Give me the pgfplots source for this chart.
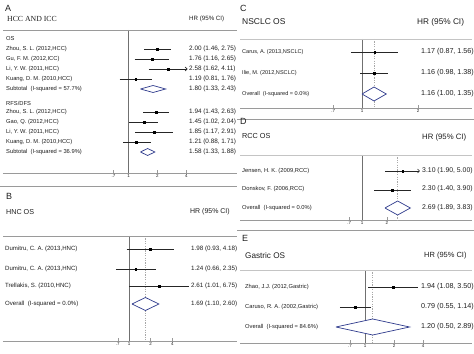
\documentclass[border=0pt]{standalone}
\usepackage{pgfplots}
\pgfplotsset{compat=1.18}
\usepackage{fontspec}
\setmainfont{Liberation Sans}
\newfontfamily\serifhead{Liberation Serif}
\usetikzlibrary{arrows.meta}

\definecolor{txt}{HTML}{1E1E1E}
\definecolor{rule}{HTML}{9A9A9A}
\definecolor{headrule}{HTML}{C4C4C4}
\definecolor{nullc}{HTML}{707070}
\definecolor{diam}{HTML}{2E3A8C}
\definecolor{dashc}{HTML}{A8A8A8}

\newcommand\fs[1]{\fontsize{#1}{#1}\selectfont}

\pgfplotsset{
  fplot/.style={
    scale only axis, clip=false,
    axis x line=bottom, axis y line=none,
    axis line style={-,rule,line width=0.6bp},
    tick align=inside, major tick length=2.5bp,
    xtick style={rule,line width=0.5bp},
    ytick=\empty,
    x tick label style={font=\fs{4.5}, text=txt, inner sep=1bp},
  },
  ci/.style={black!85, line width=0.6bp, mark=none},
  est/.style={only marks, mark=square*, mark size=0.9bp, black},
  pooled/.style={diam, line width=0.7bp, fill=white, mark=none},
  nullline/.style={nullc, line width=0.6bp, mark=none},
  overall/.style={dashc, line width=0.6bp, dash pattern=on 1.2bp off 1.2bp, mark=none},
}

% one study: row, estimate, lower, upper
\newcommand\study[4]{%
  \addplot[ci] coordinates {(#3,#1) (#4,#1)};
  \addplot[est] coordinates {(#2,#1)};}
% a study whose interval runs past the plotted range
\newcommand\studyarrow[4]{%
  \addplot[ci,-{Straight Barb[length=2bp,width=4bp]}] coordinates {(#3,#1) (#4,#1)};
  \addplot[est] coordinates {(#2,#1)};}

\begin{document}
\begin{tikzpicture}
\path[use as bounding box] (0,0) rectangle (474bp,354bp);

% ---------------- A: HCC and ICC ----------------
\begin{axis}[xmode=log, fplot, anchor=south west, at={(3bp,181bp)}, width=234bp, height=143bp,
  xmin=0.04966, xmax=13.41, ymin=-173, ymax=-30,
  xtick={0.7,1,2,4}, xticklabels={.7,1,2,4}]
  \addplot[nullline] coordinates {(1,-30) (1,-173)};
  % OS
  \study{-49}{2.00}{1.46}{2.75}
  \study{-59}{1.76}{1.16}{2.65}
  \studyarrow{-69}{2.58}{1.62}{4.11}
  \study{-79}{1.19}{0.81}{1.76}
  \addplot[pooled] coordinates {(1.33,-89) (1.80,-85.5) (2.43,-89) (1.80,-92.5) (1.33,-89)};
  % RFS/DFS
  \study{-112}{1.94}{1.43}{2.63}
  \study{-122}{1.45}{1.02}{2.04}
  \study{-132}{1.85}{1.17}{2.91}
  \study{-142}{1.21}{0.88}{1.71}
  \addplot[pooled] coordinates {(1.33,-152) (1.58,-148.5) (1.88,-152) (1.58,-155.5) (1.33,-152)};
\end{axis}

% ---------------- B: HNC OS ----------------
\begin{axis}[xmode=log, fplot, anchor=south west, at={(3bp,13bp)}, width=234bp, height=105bp,
  xmin=0.01785, xmax=31.52, ymin=-341, ymax=-236,
  xtick={0.7,1,2,4}, xticklabels={.7,1,2,4}]
  \addplot[nullline] coordinates {(1,-236) (1,-341)};
  \addplot[overall] coordinates {(1.69,-236) (1.69,-341)};
  \study{-249}{1.98}{0.93}{4.18}
  \study{-269}{1.24}{0.66}{2.35}
  \study{-286}{2.61}{1.01}{6.75}
  \addplot[pooled] coordinates {(1.10,-304) (1.69,-297.5) (2.60,-304) (1.69,-310.5) (1.10,-304)};
\end{axis}

% ---------------- C: NSCLC OS ----------------
\begin{axis}[xmode=log, fplot, anchor=south west, at={(240bp,246bp)}, width=232bp, height=69bp,
  xmin=0.2209, xmax=3.901, ymin=-108, ymax=-39,
  xtick={0.7,1,2}, xticklabels={.7,1,2}]
  \addplot[nullline] coordinates {(1,-39) (1,-108)};
  \addplot[overall] coordinates {(1.16,-39) (1.16,-108)};
  \study{-52}{1.17}{0.87}{1.56}
  \study{-73}{1.16}{0.98}{1.38}
  \addplot[pooled] coordinates {(1.00,-94) (1.16,-87) (1.35,-94) (1.16,-101) (1.00,-94)};
\end{axis}

% ---------------- D: RCC OS ----------------
\begin{axis}[xmode=log, fplot, anchor=south west, at={(240bp,134bp)}, width=232bp, height=65bp,
  xmin=0.03374, xmax=21.23, ymin=-220, ymax=-155,
  xtick={0.7,1,2}, xticklabels={.7,1,2}]
  \addplot[nullline] coordinates {(1,-155) (1,-220)};
  \addplot[overall] coordinates {(2.69,-155) (2.69,-220)};
  \studyarrow{-171}{3.10}{1.90}{5.00}
  \study{-190}{2.30}{1.40}{3.90}
  \addplot[pooled] coordinates {(1.89,-208) (2.69,-201) (3.83,-208) (2.69,-215) (1.89,-208)};
\end{axis}

% ---------------- E: Gastric OS ----------------
\begin{axis}[xmode=log, fplot, anchor=south west, at={(240bp,11bp)}, width=232bp, height=73bp,
  xmin=0.05098, xmax=12.78, ymin=-343, ymax=-270,
  xtick={0.7,1,2,4}, xticklabels={.7,1,2,4}]
  \addplot[nullline] coordinates {(1,-270) (1,-343)};
  \addplot[overall] coordinates {(1.20,-270) (1.20,-343)};
  \study{-287}{1.94}{1.08}{3.50}
  \study{-307}{0.79}{0.55}{1.14}
  \addplot[pooled] coordinates {(0.50,-327) (1.20,-319) (2.89,-327) (1.20,-335) (0.50,-327)};
\end{axis}

% ---------------- text and panel rules ----------------
\begin{scope}[x=1bp, y=-1bp, shift={(0,354bp)},
  every node/.style={anchor=west, inner sep=0pt, text=txt}]
  % panel rules
  \draw[rule, line width=0.6bp] (3,30) -- (237,30);
  \draw[rule, line width=0.6bp] (0,186) -- (237,186);
  \draw[rule, line width=0.6bp] (3,236) -- (237,236);
  \draw[rule, line width=0.6bp] (237,119) -- (474,119);
  \draw[rule, line width=0.6bp] (237,230) -- (474,230);
  \draw[headrule, line width=0.5bp] (240,39) -- (472,39);
  \draw[headrule, line width=0.5bp] (240,155) -- (472,155);
  \draw[headrule, line width=0.5bp] (240,270) -- (472,270);

  % A
  \node[font=\fs{9}] at (5,8) {A};
  \node[font=\serifhead\fs{7.8}] at (7,19) {HCC AND ICC};
  \node[font=\fs{6.2}] at (189,19) {HR (95\% CI)};
  \begin{scope}[every node/.append style={font=\fs{5.8}}]
    \node at (6,39) {OS};
    \node at (6,49) {Zhou, S. L. (2012,HCC)};
    \node at (6,59) {Gu, F. M. (2012,ICC)};
    \node at (6,69) {Li, Y. W. (2011,HCC)};
    \node at (6,79) {Kuang, D. M. (2010,HCC)};
    \node at (6,89) {Subtotal\ \ (I-squared = 57.7\%)};
    \node at (6,103) {RFS/DFS};
    \node at (6,112) {Zhou, S. L. (2012,HCC)};
    \node at (6,122) {Gao, Q. (2012,HCC)};
    \node at (6,132) {Li, Y. W. (2011,HCC)};
    \node at (6,142) {Kuang, D. M. (2010,HCC)};
    \node at (6,152) {Subtotal\ \ (I-squared = 36.9\%)};
  \end{scope}
  \begin{scope}[every node/.append style={font=\fs{6.4}}]
    \node at (189,49) {2.00 (1.46, 2.75)};
    \node at (189,59) {1.76 (1.16, 2.65)};
    \node at (189,69) {2.58 (1.62, 4.11)};
    \node at (189,79) {1.19 (0.81, 1.76)};
    \node at (189,89) {1.80 (1.33, 2.43)};
    \node at (189,112) {1.94 (1.43, 2.63)};
    \node at (189,122) {1.45 (1.02, 2.04)};
    \node at (189,132) {1.85 (1.17, 2.91)};
    \node at (189,142) {1.21 (0.88, 1.71)};
    \node at (189,152) {1.58 (1.33, 1.88)};
  \end{scope}

  % B
  \node[font=\fs{9}] at (6,196) {B};
  \node[font=\fs{7.2}] at (6,212) {HNC OS};
  \node[font=\fs{7}] at (190,212) {HR (95\% CI)};
  \begin{scope}[every node/.append style={font=\fs{6.1}}]
    \node at (5,249) {Dumitru, C. A. (2013,HNC)};
    \node at (5,269) {Dumitru, C. A. (2013,HNC)};
    \node at (5,286) {Trellakis, S. (2010,HNC)};
    \node at (5,304) {Overall\ \ (I-squared = 0.0\%)};
  \end{scope}
  \begin{scope}[every node/.append style={font=\fs{6.3}}]
    \node at (191,249) {1.98 (0.93, 4.18)};
    \node at (191,269) {1.24 (0.66, 2.35)};
    \node at (191,286) {2.61 (1.01, 6.75)};
    \node at (191,304) {1.69 (1.10, 2.60)};
  \end{scope}

  % C
  \node[font=\fs{9}] at (240,8) {C};
  \node[font=\fs{8.5}] at (242,22) {NSCLC OS};
  \node[font=\fs{8.3}] at (417,22) {HR (95\% CI)};
  \begin{scope}[every node/.append style={font=\fs{5.6}}]
    \node at (242,52) {Carus, A. (2013,NSCLC)};
    \node at (242,73) {Ilie, M. (2012,NSCLC)};
    \node at (242,94) {Overall\ \ (I-squared = 0.0\%)};
  \end{scope}
  \begin{scope}[every node/.append style={font=\fs{7.2}}]
    \node at (421,52) {1.17 (0.87, 1.56)};
    \node at (421,73) {1.16 (0.98, 1.38)};
    \node at (421,94) {1.16 (1.00, 1.35)};
  \end{scope}

  % D
  \node[font=\fs{9}] at (240,121) {D};
  \node[font=\fs{7.3}] at (242,136) {RCC OS};
  \node[font=\fs{7.8}] at (422,137) {HR (95\% CI)};
  \begin{scope}[every node/.append style={font=\fs{5.8}}]
    \node at (242,171) {Jensen, H. K. (2009,RCC)};
    \node at (242,189) {Donskov, F. (2006,RCC)};
    \node at (242,208) {Overall\ \ (I-squared = 0.0\%)};
  \end{scope}
  \begin{scope}[every node/.append style={font=\fs{6.9}}]
    \node at (422,171) {3.10 (1.90, 5.00)};
    \node at (422,189) {2.30 (1.40, 3.90)};
    \node at (422,208) {2.69 (1.89, 3.83)};
  \end{scope}

  % E
  \node[font=\fs{9}] at (242,238) {E};
  \node[font=\fs{8.2}] at (245,256) {Gastric OS};
  \node[font=\fs{7.5}] at (424,256) {HR (95\% CI)};
  \begin{scope}[every node/.append style={font=\fs{5.8}}]
    \node at (245,287) {Zhao, J.J. (2012,Gastric)};
    \node at (245,307) {Caruso, R. A. (2002,Gastric)};
    \node at (245,327) {Overall\ \ (I-squared = 84.6\%)};
  \end{scope}
  \begin{scope}[every node/.append style={font=\fs{7.2}}]
    \node at (421,287) {1.94 (1.08, 3.50)};
    \node at (421,307) {0.79 (0.55, 1.14)};
    \node at (421,327) {1.20 (0.50, 2.89)};
  \end{scope}
\end{scope}
\end{tikzpicture}
\end{document}
